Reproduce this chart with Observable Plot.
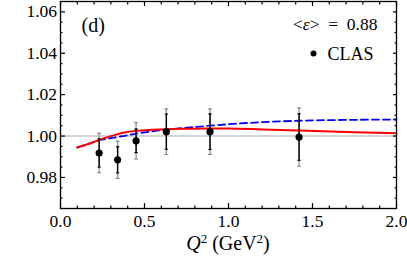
<!DOCTYPE html>
<html><head><meta charset="utf-8">
<script src="https://cdn.jsdelivr.net/npm/d3@7"></script>
<script src="https://cdn.jsdelivr.net/npm/@observablehq/plot@0.6"></script>
<style>
body{margin:0;background:#fff}
svg{display:block}
svg text{font-family:"Liberation Serif","Times New Roman",serif !important;}
</style>
</head><body><div id="chart"></div>
<script>
// CLAS data points
const q2 = [0.23, 0.34, 0.45, 0.63, 0.89, 1.42];
const ratio = [0.9918, 0.9885, 0.9977, 1.0021, 1.0021, 0.9995];
const statErr = [0.0068, 0.0063, 0.0057, 0.0085, 0.0086, 0.0112];
const totErr = [0.0095, 0.0090, 0.0088, 0.0110, 0.0110, 0.0140];

// red solid curve
const redQ2 = [0.10, 0.17, 0.23, 0.28, 0.33, 0.38, 0.45, 0.55, 0.63, 0.75, 0.89, 1.0, 1.2, 1.42, 1.7, 2.0];
const redR  = [0.9945, 0.9963, 0.9981, 0.9995, 1.0007, 1.0017, 1.0025, 1.0030, 1.0033, 1.0035, 1.0036, 1.0036, 1.0032, 1.0027, 1.0020, 1.0013];

// blue dashed curve
const blueQ2 = [0.10, 0.17, 0.23, 0.30, 0.36, 0.45, 0.55, 0.63, 0.75, 0.89, 1.0, 1.2, 1.42, 1.7, 2.0];
const blueR  = [0.9945, 0.9963, 0.9980, 0.9990, 0.9998, 1.0012, 1.0023, 1.0031, 1.0040, 1.0050, 1.0057, 1.0067, 1.0074, 1.0078, 1.0080];

// ticks
const xMajor = [0, 0.5, 1.0, 1.5, 2.0];
const xMinor = [0.1, 0.2, 0.3, 0.4, 0.6, 0.7, 0.8, 0.9, 1.1, 1.2, 1.3, 1.4, 1.6, 1.7, 1.8, 1.9];
const yMajor = [0.98, 1.00, 1.02, 1.04, 1.06];
const yMinor = [0.965, 0.97, 0.975, 0.985, 0.99, 0.995, 1.005, 1.01, 1.015, 1.025, 1.03, 1.035, 1.045, 1.05, 1.055];

const points = q2.map((q, i) => ({q, r: ratio[i], s: statErr[i], t: totErr[i]}));
const red = redQ2.map((q, i) => ({q, r: redR[i]}));
const blue = blueQ2.map((q, i) => ({q, r: blueR[i]}));

const capSymbol = {draw(ctx, size) { const w = Math.sqrt(size / Math.PI); ctx.moveTo(-w, 0); ctx.lineTo(w, 0); }};
const font = "Liberation Serif";
const fs = 17.5;

const chart = Plot.plot({
  width: 407, height: 258,
  marginLeft: 60, marginRight: 11, marginTop: 1, marginBottom: 50,
  style: {fontFamily: font, fontSize: fs + "px", background: "white", color: "black"},
  x: {domain: [0, 2], axis: null},
  y: {domain: [0.965, 1.065], axis: null},
  marks: [
    Plot.ruleY([1], {stroke: "#c8c8c8", strokeWidth: 1.5}),
    Plot.line(blue, {x: "q", y: "r", stroke: "#0000ff", strokeWidth: 1.8, strokeDasharray: "7,4", curve: "monotone-x"}),
    Plot.line(red, {x: "q", y: "r", stroke: "#ff0000", strokeWidth: 2, curve: "monotone-x"}),
    // total error bars (gray)
    Plot.ruleX(points, {x: "q", y1: d => d.r - d.t, y2: d => d.r + d.t, stroke: "#8a8a8a", strokeWidth: 1.2}),
    Plot.dot(points, {x: "q", y: d => d.r - d.t, symbol: capSymbol, r: 2, stroke: "#8a8a8a", strokeWidth: 1.2, fill: "none"}),
    Plot.dot(points, {x: "q", y: d => d.r + d.t, symbol: capSymbol, r: 2, stroke: "#8a8a8a", strokeWidth: 1.2, fill: "none"}),
    // stat error bars (black)
    Plot.ruleX(points, {x: "q", y1: d => d.r - d.s, y2: d => d.r + d.s, stroke: "black", strokeWidth: 1.4}),
    Plot.dot(points, {x: "q", y: d => d.r - d.s, symbol: capSymbol, r: 1.6, stroke: "black", strokeWidth: 1.2, fill: "none"}),
    Plot.dot(points, {x: "q", y: d => d.r + d.s, symbol: capSymbol, r: 1.6, stroke: "black", strokeWidth: 1.2, fill: "none"}),
    Plot.dot(points, {x: "q", y: "r", r: 3.6, fill: "black", stroke: "none"}),
    // frame & ticks
    Plot.frame({stroke: "black", strokeWidth: 1.3}),
    Plot.axisX(xMajor, {anchor: "bottom", tickSize: -5, tickPadding: 11, tickFormat: d3.format(".1f"), fontSize: fs, fontFamily: font, strokeWidth: 1.2, label: null}),
    Plot.axisX(xMinor, {anchor: "bottom", tickSize: -2.5, tickFormat: () => "", strokeWidth: 1.2, label: null}),
    Plot.axisX(xMajor, {anchor: "top", tickSize: -4, tickFormat: () => "", strokeWidth: 1.2, label: null}),
    Plot.axisX(xMinor, {anchor: "top", tickSize: -2.5, tickFormat: () => "", strokeWidth: 1.2, label: null}),
    Plot.axisY(yMajor, {anchor: "left", tickSize: -5, tickPadding: 8.5, tickFormat: d3.format(".2f"), fontSize: fs, fontFamily: font, strokeWidth: 1.2, label: null}),
    Plot.axisY(yMinor, {anchor: "left", tickSize: -2.5, tickFormat: () => "", strokeWidth: 1.2, label: null}),
    Plot.axisY(yMajor, {anchor: "right", tickSize: -4, tickFormat: () => "", strokeWidth: 1.2, label: null}),
    Plot.axisY(yMinor, {anchor: "right", tickSize: -2.5, tickFormat: () => "", strokeWidth: 1.2, label: null}),
    // annotations
    Plot.text(["(d)"], {text: d => d, frameAnchor: "top-left", dx: 21, dy: 16.3, lineAnchor: "top", textAnchor: "start", fontSize: 20, fontFamily: font}),
    Plot.text(["<ε>\u2002=\u20020.88"], {text: d => d, frameAnchor: "top-right", dx: -19, dy: 16.1, lineAnchor: "top", textAnchor: "end", fontSize: 17.5, fontFamily: font}),
    Plot.dot([0], {frameAnchor: "top-right", dx: -83, dy: 52, r: 3, fill: "black"}),
    Plot.text(["CLAS"], {text: d => d, frameAnchor: "top-right", dx: -69, dy: 46.2, lineAnchor: "top", textAnchor: "start", fontSize: 18, fontFamily: font})
  ]
});

const svg = d3.select(chart);
// italic epsilon in the annotation
svg.selectAll("text").filter(function() { return this.textContent.includes("ε"); }).each(function() {
  const el = d3.select(this);
  const full = this.textContent;
  const i = full.indexOf("ε");
  el.text(null);
  el.append("tspan").text(full.slice(0, i));
  el.append("tspan").attr("font-style", "italic").text("ε");
  el.append("tspan").text(full.slice(i + 1));
});

// x-axis title with italic Q and superscripts
const xs = chart.scale("x");
const t = svg.append("text")
  .attr("x", xs.apply(1)).attr("y", 250)
  .attr("text-anchor", "middle")
  .attr("font-family", font).attr("font-size", 20).attr("fill", "black");
t.append("tspan").attr("font-style", "italic").text("Q");
t.append("tspan").attr("dy", -7).attr("font-size", 13).text("2");
t.append("tspan").attr("dy", 7).text(" (GeV");
t.append("tspan").attr("dy", -7).attr("font-size", 13).text("2");
t.append("tspan").attr("dy", 7).text(")");

document.getElementById("chart").appendChild(chart);
</script>
</body></html>
